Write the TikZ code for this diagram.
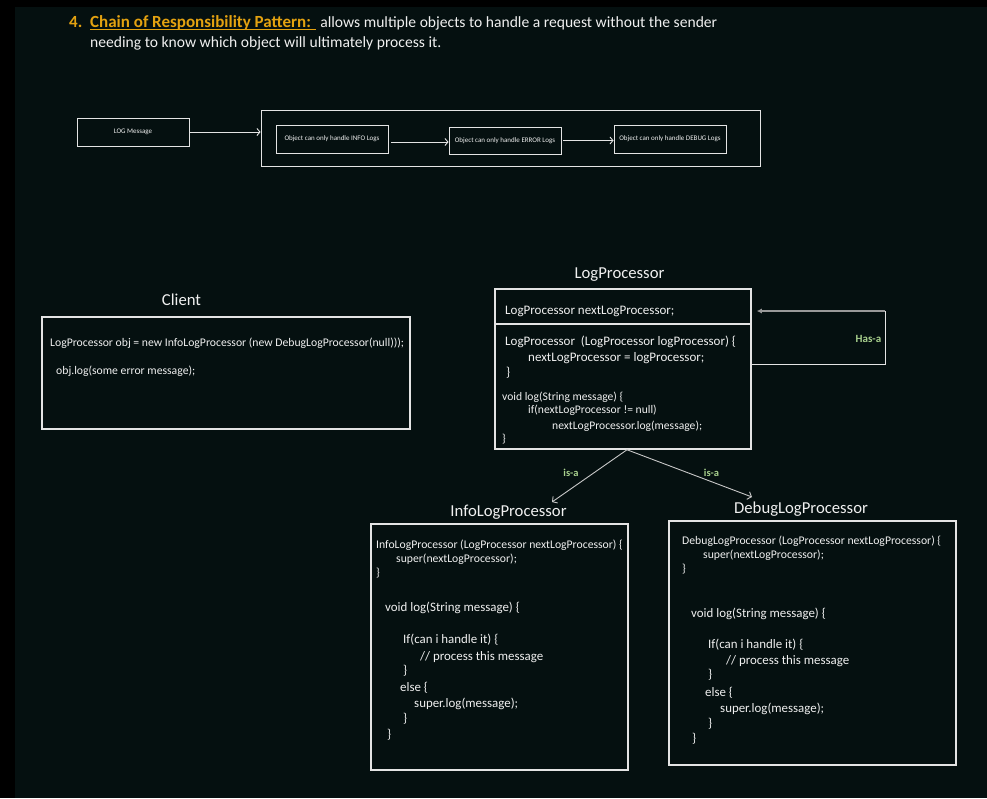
\documentclass[tikz,border=0pt]{standalone}
\usepackage{fontspec}
\setmainfont{Carlito}
\usetikzlibrary{arrows.meta}
\definecolor{bgpanel}{RGB}{5,16,16}
\definecolor{fg}{RGB}{240,240,240}
\definecolor{edgec}{RGB}{228,228,228}
\definecolor{gold}{RGB}{228,162,16}
\definecolor{lgreen}{RGB}{169,209,142}
\definecolor{arrc}{RGB}{200,200,200}
\newcommand\codeln[5]{\node[code,font=\fontsize{#4}{#4}\selectfont] (#1) at (#2,{#3+0.32*#4}) {#5};}
\newcommand\ttlnode[4]{\node[ttlst] (#1) at (#2,{#3+5.3}) {#4};}
\begin{document}
\begin{tikzpicture}[x=1pt,y=-1pt,
  code/.style={anchor=base west, inner sep=0pt, text=fg},
  ttlst/.style={anchor=base, inner sep=0pt, text=fg, font=\fontsize{16.7}{16.7}\selectfont},
  bigbox/.style={draw=edgec, line width=1.5pt, inner sep=0pt},
  smallbox/.style={draw=edgec, line width=0.9pt, inner sep=0pt, text=fg, font=\fontsize{7}{7}\selectfont},
  arr/.style={draw=edgec, line width=0.9pt, -{Straight Barb[length=3pt,width=7pt]}},
  isaarr/.style={draw=arrc, line width=0.9pt, -{Straight Barb[length=3.5pt,width=8pt]}},
  lbl/.style={anchor=base, inner sep=0pt, text=lgreen, font=\bfseries\fontsize{10.5}{10.5}\selectfont}
]
\useasboundingbox (0,0) rectangle (987,798);
\fill[black] (0,0) rectangle (987,798);
\fill[bgpanel] (15,7) rectangle (987,798);

% ---- title ----
\node[code, text=gold, font=\bfseries\fontsize{17}{17}\selectfont] (n4) at (69,27) {4.};
\node[code, text=gold, font=\bfseries\fontsize{17}{17}\selectfont] (chain) at (90,27) {Chain of Responsibility Pattern:};
\draw[gold, line width=1pt] ([yshift=-2.3pt]chain.base west) -- ([yshift=-2.3pt,xshift=5pt]chain.base east);
\node[code, font=\fontsize{15.6}{15.6}\selectfont] (rest1) at ([xshift=9pt]chain.base east) {allows multiple objects to handle a request without the sender};
\node[code, font=\fontsize{15.6}{15.6}\selectfont] (rest2) at (90,47) {needing to know which object will ultimately process it.};

% ---- top chain diagram ----
\node[smallbox, minimum width=112pt, minimum height=28pt] (logmsg) at (133,132) {LOG Message};
\node[smallbox, minimum width=499pt, minimum height=56pt] (outer) at (510.5,138) {};
\node[smallbox, minimum width=112pt, minimum height=28pt] (hinfo) at (332,139) {Object can only handle INFO Logs};
\node[smallbox, minimum width=112pt, minimum height=27pt] (herr) at (505,140.5) {Object can only handle ERROR Logs};
\node[smallbox, minimum width=112pt, minimum height=28pt] (hdbg) at (670,139) {Object can only handle DEBUG Logs};
\draw[arr] (logmsg.east) -- (logmsg.east -| outer.west);
\draw[arr, shorten <=3pt] ([yshift=-3pt]hinfo.east) -- ([yshift=-3pt]hinfo.east -| herr.west);
\draw[arr, shorten <=2pt] (herr.east) -- (herr.east -| hdbg.west);

% ---- titles ----
\ttlnode{tclient}{181.5}{300}{Client}
\ttlnode{tlp}{619.5}{273}{LogProcessor}
\ttlnode{tinfo}{508.5}{511}{InfoLogProcessor}
\ttlnode{tdbg}{801}{508}{DebugLogProcessor}

% ---- boxes ----
\node[bigbox, minimum width=368pt, minimum height=112pt] (client) at (226,373) {};
\node[bigbox, minimum width=256pt, minimum height=160pt] (lp) at (623,369) {};
\draw[edgec, line width=1.2pt] (lp.west |- 0,324) -- (lp.east |- 0,324);
\node[bigbox, minimum width=257pt, minimum height=246pt] (info) at (499.5,647) {};
\node[bigbox, minimum width=287pt, minimum height=244pt] (dbg) at (812.5,643) {};

% ---- client code ----
\codeln{c1}{50}{343}{11.7}{LogProcessor obj = new InfoLogProcessor (new DebugLogProcessor(null)));}
\codeln{c2}{56}{371}{11.7}{obj.log(some error message);}

% ---- LogProcessor code ----
\codeln{l1}{505}{310}{13}{LogProcessor nextLogProcessor;}
\codeln{l2}{505}{341}{13}{LogProcessor\ \ (LogProcessor logProcessor) \{}
\codeln{l3}{528}{357}{13}{nextLogProcessor = logProcessor;}
\codeln{l4}{506}{372}{13}{\}}
\codeln{l5}{502}{397}{11.6}{void log(String message) \{}
\codeln{l6}{528}{410}{11.6}{if(nextLogProcessor != null)}
\codeln{l7}{552}{426}{11.6}{nextLogProcessor.log(message);}
\codeln{l8}{502}{439}{11.6}{\}}

% ---- InfoLogProcessor code ----
\codeln{i1}{376}{545}{11.7}{InfoLogProcessor (LogProcessor nextLogProcessor) \{}
\codeln{i2}{396}{559}{11.7}{super(nextLogProcessor);}
\codeln{i3}{376}{573}{11.7}{\}}
\codeln{i4}{385}{607}{12.9}{void log(String message) \{}
\codeln{i5}{403}{639}{12.9}{If(can i handle it) \{}
\codeln{i6}{420}{656}{12.9}{// process this message}
\codeln{i7}{403}{670}{12.9}{\}}
\codeln{i8}{400}{687}{12.9}{else \{}
\codeln{i9}{414}{703}{12.9}{super.log(message);}
\codeln{i10}{403}{718}{12.9}{\}}
\codeln{i11}{387}{734}{12.9}{\}}

% ---- DebugLogProcessor code ----
\codeln{d1}{682}{541}{11.7}{DebugLogProcessor (LogProcessor nextLogProcessor) \{}
\codeln{d2}{703}{555}{11.7}{super(nextLogProcessor);}
\codeln{d3}{682}{569}{11.7}{\}}
\codeln{d4}{691}{613}{12.9}{void log(String message) \{}
\codeln{d5}{708}{644}{12.9}{If(can i handle it) \{}
\codeln{d6}{726}{660}{12.9}{// process this message}
\codeln{d7}{708}{674}{12.9}{\}}
\codeln{d8}{705}{692}{12.9}{else \{}
\codeln{d9}{720}{708}{12.9}{super.log(message);}
\codeln{d10}{708}{723}{12.9}{\}}
\codeln{d11}{692}{738}{12.9}{\}}

% ---- Has-a connector ----
\coordinate (hasA) at (885,364);
\coordinate (hasB) at (885,311);
\draw[edgec, line width=1pt] ([yshift=5pt]lp.east) -- (hasA) -- (hasB);
\draw[draw=gray!80, line width=1.2pt, -{Latex[length=5pt,width=5pt]}] (hasB) -- ([yshift=58pt,xshift=5pt]lp.east);
\node[lbl, font=\bfseries\fontsize{11}{11}\selectfont] (hasa) at (868.5,342.5) {Has-a};

% ---- is-a connectors ----
\coordinate (isaI) at (552,502);
\coordinate (isaD) at (752,497);
\draw[isaarr] ([xshift=4pt]lp.south) -- (isaI);
\draw[isaarr] ([xshift=4pt]lp.south) -- (isaD);
\node[lbl] (isa1) at (571,476.5) {is-a};
\node[lbl] (isa2) at (711.5,476.5) {is-a};
\end{tikzpicture}
\end{document}
